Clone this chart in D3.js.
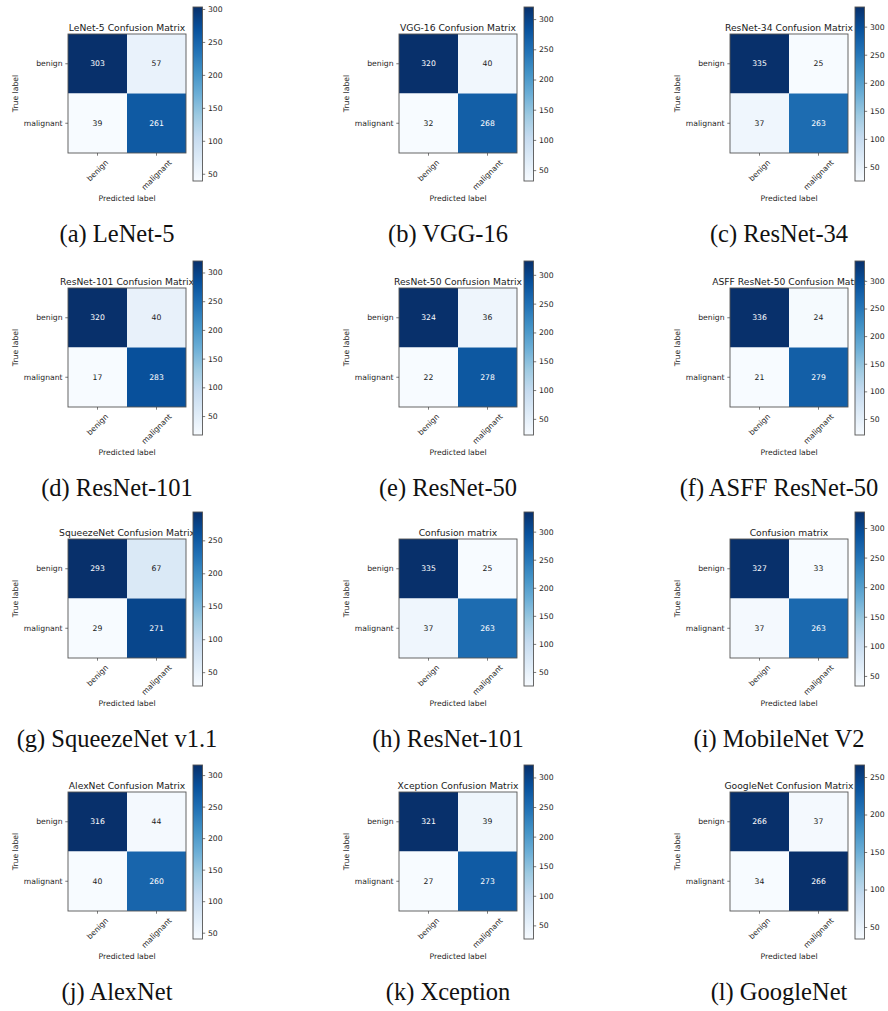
<!DOCTYPE html>
<html>
<head>
<meta charset="utf-8">
<script src="https://cdn.jsdelivr.net/npm/d3@7"></script>
<style>
  html, body { margin: 0; padding: 0; background: #fff; }
  svg { display: block; }
  .tick text { fill: #262626; }
</style>
</head>
<body>
<svg id="fig" width="888" height="1011"></svg>
<script>
// ---- data -------------------------------------------------------------
const classLabels = ["benign", "malignant"];

const captions = [
  "(a) LeNet-5", "(b) VGG-16", "(c) ResNet-34",
  "(d) ResNet-101", "(e) ResNet-50", "(f) ASFF ResNet-50",
  "(g) SqueezeNet v1.1", "(h) ResNet-101", "(i) MobileNet V2",
  "(j) AlexNet", "(k) Xception", "(l) GoogleNet"
];

const titles = [
  "LeNet-5 Confusion Matrix", "VGG-16 Confusion Matrix", "ResNet-34 Confusion Matrix",
  "ResNet-101 Confusion Matrix", "ResNet-50 Confusion Matrix", "ASFF ResNet-50 Confusion Matrix",
  "SqueezeNet Confusion Matrix", "Confusion matrix", "Confusion matrix",
  "AlexNet Confusion Matrix", "Xception Confusion Matrix", "GoogleNet Confusion Matrix"
];

// confusion-matrix cells, one entry per model (true label -> predicted label)
const benignAsBenign       = [303, 320, 335, 320, 324, 336, 293, 335, 327, 316, 321, 266];
const benignAsMalignant    = [ 57,  40,  25,  40,  36,  24,  67,  25,  33,  44,  39,  37];
const malignantAsBenign    = [ 39,  32,  37,  17,  22,  21,  29,  37,  37,  40,  27,  34];
const malignantAsMalignant = [261, 268, 263, 283, 278, 279, 271, 263, 263, 260, 273, 266];

const colorbarTicks = [50, 100, 150, 200, 250, 300];

// ---- drawing ----------------------------------------------------------
const svg = d3.select("#fig");
const FONT = "'DejaVu Sans', sans-serif";
const fsSmall = 7.7;     // ticks, labels, annotations
const fsTitle = 9.2;
const tickLen = 2.7, tickPad = 2.7;
const matW = 118, matH = 119;
const colLeft = [68, 399, 730];
const rowTop = [34, 288, 539, 792];

// matplotlib "Blues": linear segments through the 9-class ColorBrewer ramp
const blues = d3.scaleLinear()
  .domain(d3.range(9).map(i => i / 8))
  .range(d3.schemeBlues[9])
  .interpolate(d3.interpolateRgb)
  .clamp(true);

const defs = svg.append("defs");
const grad = defs.append("linearGradient")
  .attr("id", "bluesGrad")
  .attr("x1", 0).attr("y1", 1).attr("x2", 0).attr("y2", 0);
d3.range(0, 1.0001, 1 / 32).forEach(t => {
  grad.append("stop").attr("offset", t).attr("stop-color", blues(t));
});

captions.forEach((cap, k) => {
  const mx = colLeft[k % 3];
  const my = rowTop[Math.floor(k / 3)];
  const cells = [
    { t: 0, p: 0, v: benignAsBenign[k] },
    { t: 0, p: 1, v: benignAsMalignant[k] },
    { t: 1, p: 0, v: malignantAsBenign[k] },
    { t: 1, p: 1, v: malignantAsMalignant[k] }
  ];
  const vmin = d3.min(cells, d => d.v);
  const vmax = d3.max(cells, d => d.v);
  const norm = d3.scaleLinear().domain([vmin, vmax]).range([0, 1]);
  const thresh = vmax / 2;

  const g = svg.append("g").attr("transform", `translate(${mx},${my})`);

  const x = d3.scaleBand().domain(classLabels).range([0, matW]);
  const y = d3.scaleBand().domain(classLabels).range([0, matH]);

  // title (drawn before the colorbar, which sits on top of long titles)
  g.append("text")
    .attr("x", matW / 2).attr("y", -3.5)
    .attr("text-anchor", "middle")
    .attr("font-family", FONT).attr("font-size", fsTitle)
    .attr("fill", "#1a1a1a")
    .text(titles[k]);

  // cells
  g.selectAll("rect.cell").data(cells).join("rect")
    .attr("class", "cell")
    .attr("x", d => x(classLabels[d.p]))
    .attr("y", d => y(classLabels[d.t]))
    .attr("width", x.bandwidth())
    .attr("height", y.bandwidth())
    .attr("fill", d => blues(norm(d.v)));

  g.selectAll("text.val").data(cells).join("text")
    .attr("class", "val")
    .attr("x", d => x(classLabels[d.p]) + x.bandwidth() / 2)
    .attr("y", d => y(classLabels[d.t]) + y.bandwidth() / 2)
    .attr("dy", "0.35em")
    .attr("text-anchor", "middle")
    .attr("font-family", FONT).attr("font-size", fsSmall)
    .attr("fill", d => d.v > thresh ? "#ffffff" : "#1a1a1a")
    .text(d => d.v);

  // frame
  g.append("rect")
    .attr("width", matW).attr("height", matH)
    .attr("fill", "none").attr("stroke", "#555").attr("stroke-width", 0.9);

  // y axis
  const yAx = g.append("g")
    .call(d3.axisLeft(y).tickSize(tickLen).tickPadding(tickPad));
  yAx.select(".domain").remove();
  yAx.selectAll(".tick line").attr("stroke", "#444").attr("stroke-width", 0.7);
  yAx.selectAll(".tick text").attr("font-family", FONT).attr("font-size", fsSmall);

  // x axis with 45° labels centred on each tick
  const xAx = g.append("g").attr("transform", `translate(0,${matH})`)
    .call(d3.axisBottom(x).tickSize(tickLen).tickPadding(tickPad));
  xAx.select(".domain").remove();
  xAx.selectAll(".tick line").attr("stroke", "#444").attr("stroke-width", 0.7);
  xAx.selectAll(".tick text")
    .attr("font-family", FONT).attr("font-size", fsSmall)
    .each(function () {
      const w = this.getComputedTextLength();
      const half = (w + fsSmall) * Math.SQRT1_2 / 2;
      d3.select(this)
        .attr("text-anchor", "middle")
        .attr("y", 0).attr("dy", "0.35em")
        .attr("transform", `translate(0,${tickLen + tickPad + half}) rotate(-45)`);
    });

  // axis labels
  g.append("text")
    .attr("x", matW / 2).attr("y", 167)
    .attr("text-anchor", "middle")
    .attr("font-family", FONT).attr("font-size", fsSmall)
    .attr("fill", "#262626")
    .text("Predicted label");
  g.append("text")
    .attr("transform", `translate(-50,${matH / 2}) rotate(-90)`)
    .attr("text-anchor", "middle")
    .attr("font-family", FONT).attr("font-size", fsSmall)
    .attr("fill", "#262626")
    .text("True label");

  // colorbar
  const cbX = 125, cbW = 9.5, cbTop = -27, cbBot = 147;
  const cbScale = d3.scaleLinear().domain([vmin, vmax]).range([cbBot, cbTop]);
  g.append("rect")
    .attr("x", cbX).attr("y", cbTop)
    .attr("width", cbW).attr("height", cbBot - cbTop)
    .attr("fill", "url(#bluesGrad)")
    .attr("stroke", "#555").attr("stroke-width", 0.9);
  const cbAx = g.append("g").attr("transform", `translate(${cbX + cbW},0)`)
    .call(d3.axisRight(cbScale)
      .tickValues(colorbarTicks.filter(v => v >= vmin && v <= vmax))
      .tickSize(tickLen).tickPadding(tickPad));
  cbAx.select(".domain").remove();
  cbAx.selectAll(".tick line").attr("stroke", "#444").attr("stroke-width", 0.7);
  cbAx.selectAll(".tick text").attr("font-family", FONT).attr("font-size", fsSmall);

  // sub-figure caption
  svg.append("text")
    .attr("x", mx + 49).attr("y", my + 208)
    .attr("text-anchor", "middle")
    .attr("font-family", "'Liberation Serif', 'Times New Roman', serif")
    .attr("font-size", 24.5)
    .attr("fill", "#111")
    .text(cap);
});
</script>
</body>
</html>
